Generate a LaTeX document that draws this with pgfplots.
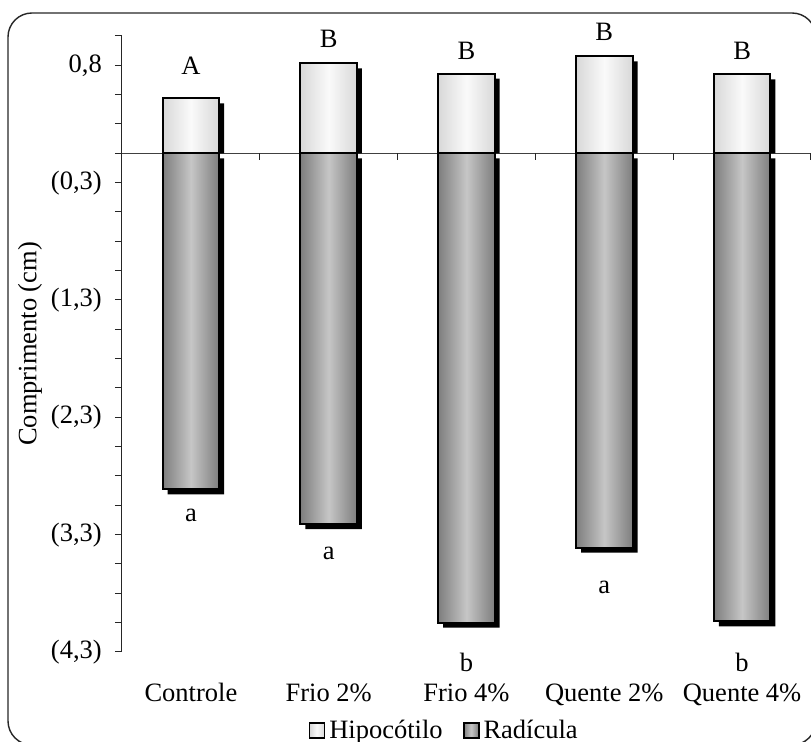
\documentclass[border=0pt]{standalone}
\usepackage{fontspec}
\setmainfont{Liberation Serif}
\usepackage{pgfplots}
\pgfplotsset{compat=1.18}
\definecolor{hipE}{HTML}{D8D8D8}
\definecolor{hipC}{HTML}{FAFAFA}
\definecolor{radE}{HTML}{7E7E7E}
\definecolor{radC}{HTML}{C6C6C6}
\pgfplotsset{
  hipbar/.style={ybar, bar width=0.41, bar shift=0pt, draw=black, line width=1pt,
    left color=hipE, right color=hipE, middle color=hipC},
  radbar/.style={ybar, bar width=0.41, bar shift=0pt, draw=black, line width=1pt,
    left color=radE, right color=radE, middle color=radC},
}
\begin{document}
\fontsize{13.25pt}{16pt}\selectfont
\begin{tikzpicture}
\useasboundingbox (0,0) rectangle (405.5pt,371pt);
\draw[line width=0.7pt, black!85, rounded corners=12pt] (4pt,364.5pt) rectangle (408pt,-1.5pt);
\begin{axis}[
  at={(61pt,45pt)}, anchor=south west,
  scale only axis, width=344.5pt, height=308pt,
  xmin=-0.5, xmax=4.5, ymin=-4.25, ymax=1.0,
  clip=false,
  axis y line*=left, axis x line*=bottom,
  x axis line style={draw=none},
  y axis line style={black!85, line width=0.5pt},
  xtick={0,1,2,3,4},
  xticklabels={Controle, Frio 2\%, Frio 4\%, Quente 2\%, Quente 4\%},
  x tick style={draw=none},
  xticklabel style={anchor=base, yshift=-21.5pt},
  ytick={0.75,-0.25,-1.25,-2.25,-3.25,-4.25},
  yticklabels={{0,8},{(0,3)},{(1,3)},{(2,3)},{(3,3)},{(4,3)}},
  minor ytick={1,0.5,0.25,0,-0.5,-0.75,-1,-1.5,-1.75,-2,-2.5,-2.75,-3,-3.5,-3.75,-4},
  yticklabel style={xshift=-2pt},
  tick align=outside,
  major tick length=3.5pt, minor tick length=3.5pt,
  y tick style={black!85, line width=0.5pt},
  extra y ticks={0}, extra y tick labels={},
  extra y tick style={grid=major, major tick length=0pt, grid style={black!75, line width=0.5pt}},
  ylabel={Comprimento (cm)},
  every axis y label/.style={at={(axis description cs:-0.1335,0.5)}, rotate=90, anchor=center},
  legend columns=2,
  legend style={at={(axis description cs:0.469,-0.128)}, anchor=center, draw=none, fill=none,
    /tikz/every even column/.append style={column sep=8pt}, inner sep=0pt},
  legend image code/.code={\draw[#1, line width=0.9pt] (0pt,-3.75pt) rectangle (7.5pt,3.75pt);},
]
% shadows
\addplot[ybar, bar width=0.41, bar shift=2.5pt, fill=black, draw=none, forget plot]
  coordinates {(0,0.426) (1,0.724) (2,0.636) (3,0.784) (4,0.630)};
\addplot[ybar, bar width=0.41, bar shift=2.5pt, fill=black, draw=none, forget plot, yshift=-2.5pt]
  coordinates {(0,-2.864) (1,-3.16) (2,-4.00) (3,-3.36) (4,-3.99)};
% bars (one plot per bar so each bar gets its own gradient)
\addplot[hipbar] coordinates {(0,0.469)};
\addlegendentry{Hipocótilo}
\addplot[radbar] coordinates {(0,-2.864)};
\addlegendentry{Radícula}
\addplot[hipbar, forget plot] coordinates {(1,0.767)};
\addplot[hipbar, forget plot] coordinates {(2,0.679)};
\addplot[hipbar, forget plot] coordinates {(3,0.827)};
\addplot[hipbar, forget plot] coordinates {(4,0.673)};
\addplot[radbar, forget plot] coordinates {(1,-3.16)};
\addplot[radbar, forget plot] coordinates {(2,-4.00)};
\addplot[radbar, forget plot] coordinates {(3,-3.36)};
\addplot[radbar, forget plot] coordinates {(4,-3.99)};
% boundary ticks on the zero line
\pgfplotsinvokeforeach{-0.5,0.5,1.5,2.5,3.5,4.5}{\draw[black!85, line width=0.5pt] (axis cs:#1,0) -- ++(0pt,-3.5pt);}
% letters
\node at (axis cs:0,0.744) {A};
\node at (axis cs:1,0.974) {B};
\node at (axis cs:2,0.872) {B};
\node at (axis cs:3,1.034) {B};
\node at (axis cs:4,0.872) {B};
\node at (axis cs:0,-3.085) {a};
\node at (axis cs:1,-3.41) {a};
\node at (axis cs:2,-4.34) {b};
\node at (axis cs:3,-3.70) {a};
\node at (axis cs:4,-4.34) {b};
\end{axis}
\end{tikzpicture}
\end{document}
